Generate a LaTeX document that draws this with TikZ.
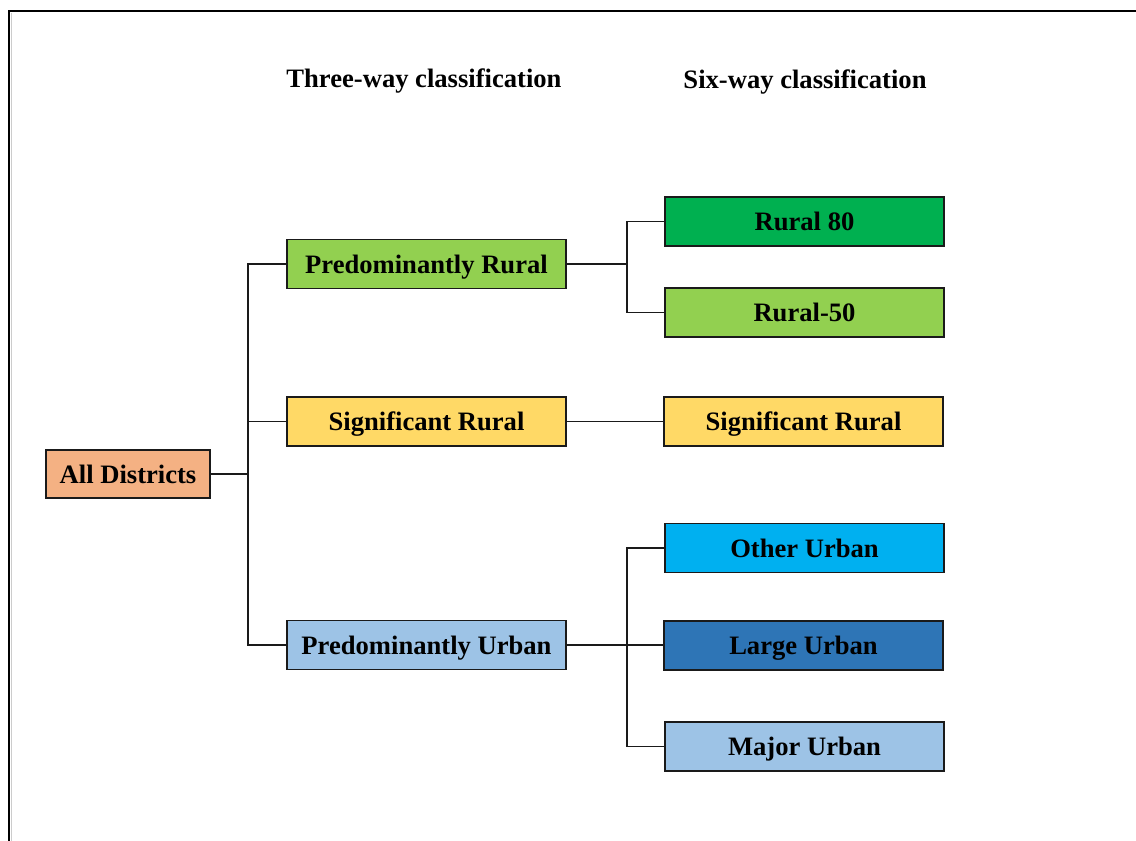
\documentclass[tikz,border=0pt]{standalone}
\usepackage{fontspec}
\setmainfont{Liberation Serif}
\definecolor{cAll}{HTML}{F4B183}
\definecolor{cGreen}{HTML}{92D050}
\definecolor{cDarkGreen}{HTML}{00B050}
\definecolor{cYellow}{HTML}{FFD966}
\definecolor{cLightBlue}{HTML}{9DC3E6}
\definecolor{cCyan}{HTML}{00B0F0}
\definecolor{cBlue}{HTML}{2E75B6}
\definecolor{cLine}{HTML}{1A1A1A}
\tikzset{
  box/.style={draw=cLine, line width=0.6pt, inner sep=0pt,
    minimum width=139.5pt, minimum height=24.5pt,
    text height=9pt, text depth=0pt,
    font=\fontsize{13.3}{16}\selectfont\bfseries},
  head/.style={inner sep=0pt, text height=9pt, text depth=0pt,
    font=\fontsize{13.3}{16}\selectfont\bfseries},
  link/.style={draw=cLine, line width=0.55pt},
}
\begin{document}
\begin{tikzpicture}[x=0.5pt, y=-0.5pt]
\useasboundingbox (0,0) rectangle (1136,841);
% outer frame (top and left edges)
\draw[line width=1.1pt] (9,841) -- (9,11) -- (1136,11);
\draw[gray!40, line width=0.8pt] (11.5,12.5) -- (11.5,841);

% column headings
\node[head] (h3) at (424,78) {Three-way classification};
\node[head] (h6) at (805,79) {Six-way classification};

% root
\node[box, fill=cAll, minimum width=82pt, minimum height=24pt] (all) at (128,474) {All Districts};

% three-way level
\node[box, fill=cGreen] (pr) at (426.5,264) {Predominantly Rural};
\node[box, fill=cYellow] (sr) at (426.5,421.5) {Significant Rural};
\node[box, fill=cLightBlue] (pu) at (426.5,645) {Predominantly Urban};

% six-way level
\node[box, fill=cDarkGreen] (r80) at (804.5,221.5) {Rural 80};
\node[box, fill=cGreen] (r50) at (804.5,312.5) {Rural-50};
\node[box, fill=cYellow] (sr2) at (803.5,421.5) {Significant Rural};
\node[box, fill=cCyan] (ou) at (804.5,548) {Other Urban};
\node[box, fill=cBlue] (lu) at (803.5,645.5) {Large Urban};
\node[box, fill=cLightBlue] (mu) at (804.5,746.5) {Major Urban};

% junction points
\coordinate (j1) at (248,474);
\coordinate (j2) at (627,264);
\coordinate (j3) at (627,645);

% root to three-way
\draw[link] (all.east) -- (j1);
\draw[link] (pr.west) -| (j1);
\draw[link] (pu.west) -| (j1);
\draw[link] (sr.west) -- (sr.west -| j1);

% three-way to six-way
\draw[link] (pr.east) -- (j2);
\draw[link] (r80.west) -| (j2);
\draw[link] (r50.west) -| (j2);
\draw[link] (sr.east) -- (sr2.west);
\draw[link] (pu.east) -- (pu.east -| lu.west);
\draw[link] (ou.west) -| (j3);
\draw[link] (mu.west) -| (j3);
\end{tikzpicture}
\end{document}
